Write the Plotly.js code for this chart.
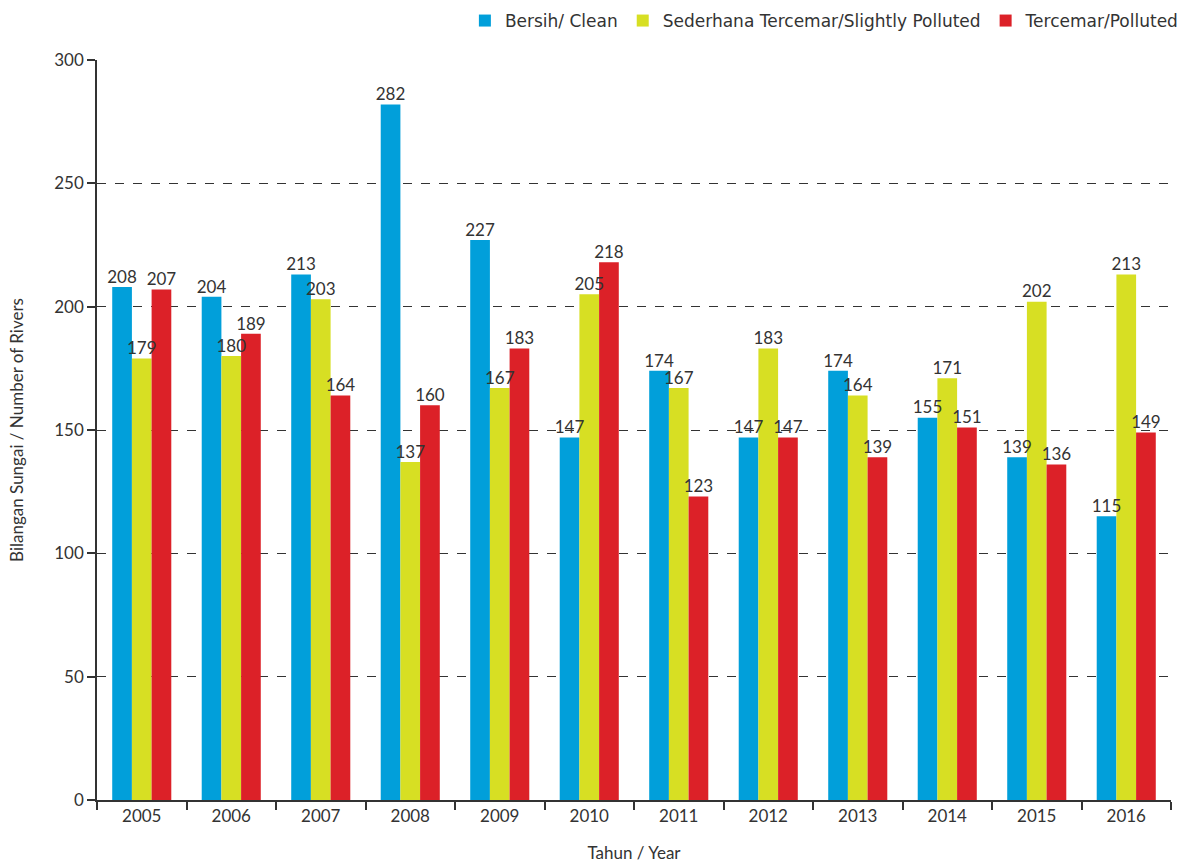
<!DOCTYPE html>
<html><head><meta charset="utf-8">
<script src="https://cdn.plot.ly/plotly-3.0.1.min.js"></script>
<style>body{margin:0;background:#fff}#c{width:1181px;height:863px}</style>
</head><body><div id="c"></div>
<script>
const years = ['2005','2006','2007','2008','2009','2010','2011','2012','2013','2014','2015','2016'];
const clean = [208,204,213,282,227,147,174,147,174,155,139,115];
const slightly = [179,180,203,137,167,205,167,183,164,171,202,213];
const polluted = [207,189,164,160,183,218,123,147,139,151,136,149];
const names = ['Bersih/ Clean','Sederhana Tercemar/Slightly Polluted','Tercemar/Polluted'];
const colors = ['#019fda','#d7df23','#dc2128'];
const font = 'Lato, "DejaVu Sans", sans-serif';
const series = [clean, slightly, polluted];
const data = [];
series.forEach((v,i) => data.push({type:'bar', x:years, y:v, name:names[i], marker:{color:colors[i]},
  offsetgroup:String(i), hoverinfo:'skip'}));
series.forEach((v,i) => data.push({type:'scatter', mode:'text', x:years, y:v, text:v.map(String),
  textposition:'top center', offsetgroup:String(i), showlegend:false, cliponaxis:false,
  textfont:{family:font,size:17,color:'#333'}}));
const layout = {
  width:1181, height:863,
  margin:{l:97,r:10,t:60,b:63,autoexpand:false},
  barmode:'group', bargap:0.34, bargroupgap:0, scattermode:'group', scattergap:0.34,
  font:{family:font,size:16,color:'#333'},
  paper_bgcolor:'#fff', plot_bgcolor:'#fff',
  showlegend:true,
  legend:{orientation:'h', x:1.012, xanchor:'right', y:1.0527, yanchor:'middle', font:{family:'"DejaVu Sans", sans-serif', size:17,color:'#333'}, itemwidth:30, tracegroupgap:0, entrywidth:0},
  xaxis:{type:'category', showline:true, linecolor:'#333', linewidth:1.5, ticks:'outside', tickson:'boundaries', ticklen:8, tickcolor:'#333', tickwidth:1.5,
    title:{text:'Tahun / Year', font:{size:17,color:'#333'}, standoff:24}, tickfont:{size:17,color:'#333'}},
  yaxis:{range:[0,300], dtick:50, showline:true, linecolor:'#333', linewidth:1.5, ticks:'outside', ticklen:8, tickcolor:'#333', tickwidth:1.5,
    showgrid:true, gridcolor:'#333', griddash:'dash', gridwidth:1, zeroline:false,
    title:{text:'Bilangan Sungai / Number of Rivers', font:{size:17,color:'#333'}, standoff:26}, tickfont:{size:17,color:'#333'}}
};
Plotly.newPlot('c', data, layout, {displayModeBar:false});
</script></body></html>
